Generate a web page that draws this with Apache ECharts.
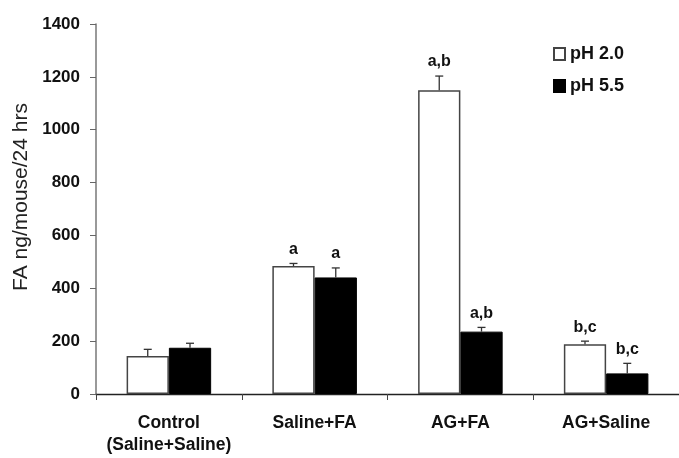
<!DOCTYPE html>
<html>
<head>
<meta charset="utf-8">
<script src="https://cdn.jsdelivr.net/npm/echarts@6/dist/echarts.min.js"></script>
<style>html,body{margin:0;padding:0;background:#fff;}#c{width:679px;height:458px;}</style>
</head>
<body>
<div id="c"></div>
<script>
const categories = ['Control\n(Saline+Saline)', 'Saline+FA', 'AG+FA', 'AG+Saline'];
const ph20 = [144, 484, 1149, 188];
const ph20Err = [25, 10, 54, 12];
const ph20Labels = ['', 'a', 'a,b', 'b,c'];
const ph55 = [175, 441, 236, 78];
const ph55Err = [17, 36, 16, 38];
const ph55Labels = ['', 'a', 'a,b', 'b,c'];
const yTicks = [0, 200, 400, 600, 800, 1000, 1200, 1400];

const FONT = '"Liberation Sans", Arial, sans-serif';

function errSeries(name, vals, errs, labels, side) {
  return {
    type: 'custom',
    name: name + ' err',
    z: 5,
    data: vals.map((v, i) => [i, v + errs[i], v]),
    renderItem: function (params, api) {
      const cat = api.value(0), top = api.value(1), base = api.value(2);
      const lab = labels[params.dataIndex];
      const pTop = api.coord([cat, top]);
      const pBase = api.coord([cat, base]);
      const catW = api.size([1, 0])[0];
      const bw = catW * (1 - 0.42) / 2;
      const x = pTop[0] + side * bw / 2;
      const st = { stroke: '#333', lineWidth: 1.3 };
      return {
        type: 'group',
        children: [
          { type: 'line', shape: { x1: x, y1: pBase[1], x2: x, y2: pTop[1] }, style: st },
          { type: 'line', shape: { x1: x - 4, y1: pTop[1], x2: x + 4, y2: pTop[1] }, style: st },
          { type: 'text', style: { text: lab, x: x, y: pTop[1] - 6, align: 'center', verticalAlign: 'bottom',
              font: 'bold 16px ' + FONT, fill: '#111' } }
        ]
      };
    }
  };
}

const chart = echarts.init(document.getElementById('c'), null, { renderer: 'canvas' });
chart.setOption({
  animation: false,
  backgroundColor: '#fff',
  grid: { left: 96, top: 24, width: 588, height: 370, containLabel: false },
  legend: {
    orient: 'vertical', left: 548, top: 40,
    data: ['pH 2.0', 'pH 5.5'],
    icon: 'rect', itemWidth: 11, itemHeight: 12, itemGap: 14,
    textStyle: { fontFamily: FONT, fontWeight: 'bold', fontSize: 18, color: '#111', padding: [0, 0, 0, 0] }
  },
  xAxis: {
    type: 'category',
    data: categories,
    axisLine: { lineStyle: { color: '#222', width: 1.3 } },
    axisTick: { show: true, length: 6, interval: 0, lineStyle: { color: '#444' } },
    axisLabel: { interval: 0, fontFamily: FONT, fontWeight: 'bold', fontSize: 17.5, color: '#111', lineHeight: 22, margin: 18 }
  },
  yAxis: {
    type: 'value', min: 0, max: 1400, interval: 200,
    name: 'FA ng/mouse/24 hrs', nameLocation: 'middle', nameGap: 62,
    nameTextStyle: { fontFamily: FONT, fontSize: 21, color: '#222', padding: [0, 0, 0, 24] },
    axisLine: { show: true, lineStyle: { color: '#777', width: 1.5 } },
    axisTick: { show: true, length: 6, lineStyle: { color: '#666' } },
    splitLine: { show: false },
    axisLabel: { fontFamily: FONT, fontWeight: 'bold', fontSize: 17, color: '#111', margin: 16,
      formatter: v => yTicks.indexOf(v) >= 0 ? String(v) : '' }
  },
  series: [
    { name: 'pH 2.0', type: 'bar', data: ph20, barGap: '0%', barCategoryGap: '42%',
      itemStyle: { color: '#fff', borderColor: '#444', borderWidth: 1.5 } },
    { name: 'pH 5.5', type: 'bar', data: ph55, barGap: '0%', barCategoryGap: '42%',
      itemStyle: { color: '#000', borderColor: '#000', borderWidth: 1 } },
    errSeries('pH 2.0', ph20, ph20Err, ph20Labels, -1),
    errSeries('pH 5.5', ph55, ph55Err, ph55Labels, 1)
  ]
});
</script>
</body>
</html>
